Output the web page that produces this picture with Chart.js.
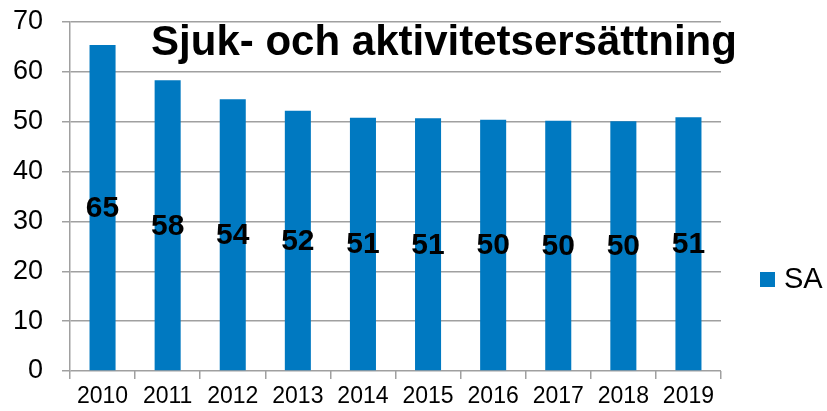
<!DOCTYPE html>
<html>
<head>
<meta charset="utf-8">
<script src="https://cdn.jsdelivr.net/npm/chart.js@4"></script>
<style>
  html, body { margin: 0; padding: 0; background: #fff; }
  #wrap { width: 827px; height: 411px; }
</style>
</head>
<body>
<div id="wrap"><canvas id="c" width="827" height="411"></canvas></div>
<script>
const years = ['2010', '2011', '2012', '2013', '2014', '2015', '2016', '2017', '2018', '2019'];
const saValues = [65.4, 58.3, 54.5, 52.2, 50.8, 50.7, 50.4, 50.2, 50.1, 50.9];
const valueLabels = ['65', '58', '54', '52', '51', '51', '50', '50', '50', '51'];
const yTicks = [0, 10, 20, 30, 40, 50, 60, 70];
const chartTitle = 'Sjuk- och aktivitetsersättning';
const seriesName = 'SA';

const blue = '#0079C1';
const gridGray = '#a0a0a0';
const font = 'Liberation Sans, Arial, sans-serif';

// titel, etiketter och legend ritas för hand
const overlay = {
  id: 'overlay',
  afterDatasetsDraw(chart) {
    const ctx = chart.ctx;
    const area = chart.chartArea;
    ctx.save();
    ctx.fillStyle = '#000';
    ctx.textAlign = 'center';
    ctx.textBaseline = 'middle';
    ctx.font = 'bold 30px ' + font;
    chart.getDatasetMeta(0).data.forEach((bar, i) => {
      const mid = (bar.y + bar.base) / 2;
      ctx.fillText(valueLabels[i], bar.x, mid + 1);
    });

    ctx.font = 'bold 42px ' + font;
    ctx.textAlign = 'center';
    ctx.fillText(chartTitle, 444, area.top + 21);

    // legend
    ctx.fillStyle = blue;
    ctx.fillRect(760, 272, 15, 15);
    ctx.fillStyle = '#000';
    ctx.textAlign = 'left';
    ctx.font = '29px ' + font;
    ctx.fillText(seriesName, 784, 280);
    ctx.restore();
  }
};

new Chart(document.getElementById('c'), {
  type: 'bar',
  data: {
    labels: years,
    datasets: [{
      label: seriesName,
      data: saValues,
      backgroundColor: blue,
      categoryPercentage: 1,
      barPercentage: 0.4
    }]
  },
  options: {
    responsive: false,
    animation: false,
    layout: { padding: { top: 22, right: 106, left: 0, bottom: 0 } },
    plugins: {
      legend: { display: false },
      tooltip: { enabled: false }
    },
    scales: {
      x: {
        afterFit(scale) {
          scale.height = 40;
          scale.paddingLeft = 0;
          scale.paddingRight = 0;
        },
        grid: {
          drawOnChartArea: false,
          color: gridGray,
          lineWidth: 1.5,
          tickLength: 8,
          tickColor: gridGray
        },
        border: { display: false },
        ticks: {
          color: '#000',
          font: { family: font, size: 23 },
          padding: 4,
          maxRotation: 0
        }
      },
      y: {
        min: 0,
        max: 70,
        afterFit(scale) {
          scale.width = 70;
          scale.paddingTop = 0;
          scale.paddingBottom = 0;
        },
        afterBuildTicks(scale) { scale.ticks = yTicks.map(v => ({ value: v })); },
        grid: {
          color: gridGray,
          lineWidth: 1.5,
          tickLength: 8
        },
        border: { color: gridGray, width: 1.5 },
        ticks: {
          color: '#000',
          font: { family: font, size: 27 },
          padding: 19
        }
      }
    }
  },
  plugins: [overlay]
});
</script>
</body>
</html>
